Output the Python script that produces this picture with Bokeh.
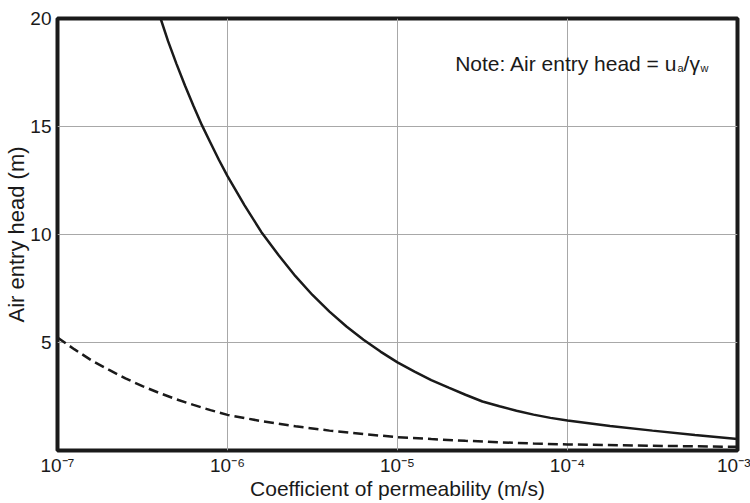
from bokeh.plotting import figure
from bokeh.models import Range1d, FixedTicker, CustomJSTickFormatter
from bokeh.core.properties import value
from bokeh.embed import file_html
from bokeh.resources import INLINE

# ---- data ----
solid_k = [4.04e-7, 4.47e-7, 5.01e-7, 5.62e-7, 6.31e-7, 7.08e-7, 7.94e-7, 8.91e-7,
           1.0e-6, 1.26e-6, 1.58e-6, 2.0e-6, 2.51e-6, 3.16e-6, 3.98e-6, 5.01e-6,
           6.31e-6, 7.94e-6, 1.0e-5, 1.26e-5, 1.58e-5, 2.0e-5, 2.51e-5, 3.16e-5,
           3.98e-5, 5.01e-5, 6.31e-5, 7.94e-5, 1.0e-4, 1.78e-4, 3.16e-4, 5.62e-4, 1.0e-3]
solid_head = [20.0, 18.95, 17.9, 16.9, 15.95, 15.05, 14.25, 13.45,
              12.7, 11.35, 10.12, 9.04, 8.07, 7.2, 6.43, 5.74,
              5.13, 4.58, 4.08, 3.65, 3.26, 2.91, 2.58, 2.27,
              2.05, 1.84, 1.66, 1.51, 1.39, 1.13, 0.92, 0.72, 0.53]

dashed_k = [1.0e-7, 1.26e-7, 1.58e-7, 2.0e-7, 2.51e-7, 3.16e-7, 3.98e-7, 5.01e-7,
            6.31e-7, 7.94e-7, 1.0e-6, 1.58e-6, 2.51e-6, 3.98e-6, 6.31e-6, 1.0e-5,
            1.58e-5, 2.51e-5, 3.98e-5, 6.31e-5, 1.0e-4, 3.16e-4, 1.0e-3]
dashed_head = [5.23, 4.68, 4.18, 3.74, 3.34, 2.98, 2.66, 2.37,
               2.11, 1.87, 1.65, 1.36, 1.12, 0.92, 0.76, 0.62,
               0.53, 0.45, 0.38, 0.32, 0.28, 0.22, 0.17]

x_ticks = [1e-7, 1e-6, 1e-5, 1e-4, 1e-3]
y_ticks = [5, 10, 15, 20]

x_label = "Coefficient of permeability (m/s)"
y_label = "Air entry head (m)"
note_main = "Note: Air entry head = u"
note_sub1 = "a"
note_mid = "/\u03b3"
note_sub2 = "w"

FONT = "Liberation Sans"
INK = "#1a1a1a"

p = figure(width=750, height=503, x_axis_type="log",
           x_range=Range1d(1e-7, 1e-3), y_range=Range1d(0, 20),
           output_backend="svg", toolbar_location=None,
           min_border_left=57, min_border_right=13,
           min_border_top=18, min_border_bottom=53)

p.outline_line_color = INK
p.outline_line_width = 4
p.background_fill_color = "white"
p.border_fill_color = "white"

xt = FixedTicker(ticks=x_ticks, num_minor_ticks=0)
yt = FixedTicker(ticks=y_ticks, num_minor_ticks=0)
p.xaxis.ticker = xt
p.yaxis.ticker = yt
p.xgrid.ticker = xt
p.ygrid.ticker = yt
for g in (p.xgrid, p.ygrid):
    g.grid_line_color = "#a8a8a8"
    g.grid_line_width = 1

p.xaxis.formatter = CustomJSTickFormatter(code=r"""
const sup = {'-':'\u207b','0':'\u2070','1':'\u00b9','2':'\u00b2','3':'\u00b3',
             '4':'\u2074','5':'\u2075','6':'\u2076','7':'\u2077','8':'\u2078','9':'\u2079'};
const e = Math.round(Math.log10(tick)).toString();
return '10' + e.split('').map(c => sup[c]).join('');
""")

for ax in (p.xaxis[0], p.yaxis[0]):
    ax.axis_line_color = None
    ax.major_tick_line_color = None
    ax.minor_tick_line_color = None
    ax.major_tick_out = 0
    ax.major_tick_in = 0
    ax.major_label_text_font = FONT
    ax.major_label_text_color = INK
    ax.major_label_text_font_size = "19px"
    ax.axis_label_text_font = FONT
    ax.axis_label_text_color = INK
    ax.axis_label_text_font_style = "normal"

p.xaxis.axis_label = x_label
p.yaxis.axis_label = y_label
p.xaxis.axis_label_text_font_size = "21px"
p.yaxis.axis_label_text_font_size = "22px"
p.xaxis.major_label_standoff = 4
p.yaxis.major_label_standoff = 6
p.xaxis.axis_label_standoff = -2
p.yaxis.axis_label_standoff = -2

p.line(solid_k, solid_head, line_color=INK, line_width=2.5)
p.line(dashed_k, dashed_head, line_color=INK, line_width=2.5, line_dash="10 5")

# note with subscripts
ax_k = 4.44e-4
ay = 17.9
p.text(x=[ax_k], y=[ay], text=[note_main], text_align="right", text_baseline="alphabetic",
       text_font=value(FONT), text_font_size="21px", text_color=INK)
p.text(x=[ax_k], y=[ay], text=[note_sub1], text_align="left", text_baseline="alphabetic",
       x_offset=0, y_offset=4,
       text_font=value(FONT), text_font_size="11px", text_color=INK)
p.text(x=[ax_k], y=[ay], text=[note_mid], text_align="left", text_baseline="alphabetic",
       x_offset=6,
       text_font=value(FONT), text_font_size="21px", text_color=INK)
p.text(x=[ax_k], y=[ay], text=[note_sub2], text_align="left", text_baseline="alphabetic",
       x_offset=23, y_offset=4,
       text_font=value(FONT), text_font_size="11px", text_color=INK)

open("out.html", "w", encoding="utf-8").write(file_html(p, INLINE))
